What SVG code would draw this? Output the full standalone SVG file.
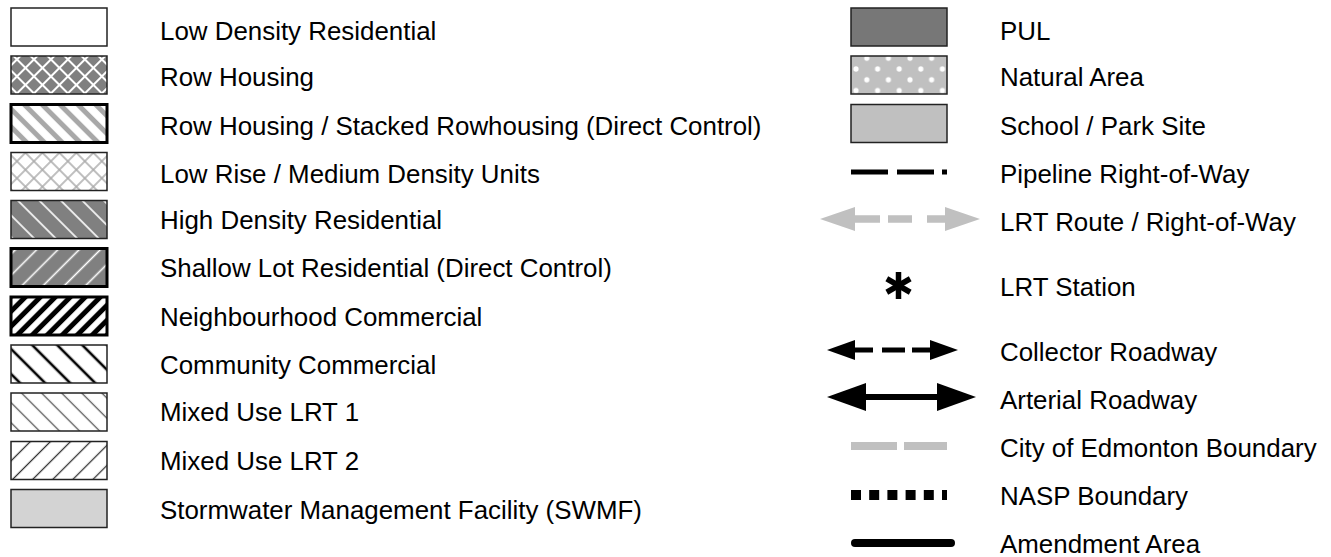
<svg xmlns="http://www.w3.org/2000/svg" width="1331" height="557" viewBox="0 0 1331 557">
  <style>
    text { font-family: "Liberation Sans", Arial, sans-serif; font-size: 25.9px; fill: #000; }
    .sw { stroke: #222; stroke-width: 1.5; }
    .swb { stroke: #000; stroke-width: 3; }
  </style>
  <defs>
    <!-- white crosshatch on mid grey -->
    <pattern id="pRowHousing" patternUnits="userSpaceOnUse" width="12" height="12" patternTransform="rotate(45)">
      <rect width="12" height="12" fill="#808080"/>
      <path d="M0,6 H12 M6,0 V12" stroke="#fff" stroke-width="2"/>
    </pattern>
    <!-- wide light grey stripes, falling left to right -->
    <pattern id="pStacked" patternUnits="userSpaceOnUse" width="12.6" height="12.6" patternTransform="rotate(45)">
      <rect width="12.6" height="12.6" fill="#fff"/>
      <path d="M0,6.3 H12.6" stroke="#a8a8a8" stroke-width="5"/>
    </pattern>
    <!-- thin grey crosshatch on white -->
    <pattern id="pLowRise" patternUnits="userSpaceOnUse" width="12" height="12" patternTransform="rotate(45)">
      <rect width="12" height="12" fill="#fff"/>
      <path d="M0,6 H12 M6,0 V12" stroke="#aaa" stroke-width="1.5"/>
    </pattern>
    <pattern id="pHighDensity" patternUnits="userSpaceOnUse" width="15.2" height="15.2" patternTransform="rotate(45)">
      <rect width="15.2" height="15.2" fill="#808080"/>
      <path d="M0,7.6 H15.2" stroke="#fff" stroke-width="1.6"/>
    </pattern>
    <pattern id="pShallowLot" patternUnits="userSpaceOnUse" width="15" height="15" patternTransform="rotate(-45)">
      <rect width="15" height="15" fill="#808080"/>
      <path d="M0,7.5 H15" stroke="#fff" stroke-width="1.6"/>
    </pattern>
    <pattern id="pNbhdCommercial" patternUnits="userSpaceOnUse" width="10.6" height="10.6" patternTransform="rotate(-45)">
      <rect width="10.6" height="10.6" fill="#fff"/>
      <path d="M0,5.3 H10.6" stroke="#000" stroke-width="5"/>
    </pattern>
    <pattern id="pCommCommercial" patternUnits="userSpaceOnUse" width="17.7" height="17.7" patternTransform="rotate(45)">
      <rect width="17.7" height="17.7" fill="#fff"/>
      <path d="M0,8.85 H17.7" stroke="#000" stroke-width="2.6"/>
    </pattern>
    <pattern id="pMixed1" patternUnits="userSpaceOnUse" width="14.2" height="14.2" patternTransform="rotate(45)">
      <rect width="14.2" height="14.2" fill="#fff"/>
      <path d="M0,7.1 H14.2" stroke="#555" stroke-width="1.3"/>
    </pattern>
    <pattern id="pMixed2" patternUnits="userSpaceOnUse" width="14.2" height="14.2" patternTransform="rotate(-45)">
      <rect width="14.2" height="14.2" fill="#fff"/>
      <path d="M0,7.1 H14.2" stroke="#333" stroke-width="1.3"/>
    </pattern>
    <!-- staggered white dots on light grey -->
    <pattern id="pNatural" patternUnits="userSpaceOnUse" x="856" y="69" width="21.6" height="21.6">
      <rect width="21.6" height="21.6" fill="#c0c0c0"/>
      <circle cx="0" cy="0" r="2.6" fill="#fff"/>
      <circle cx="21.6" cy="0" r="2.6" fill="#fff"/>
      <circle cx="0" cy="21.6" r="2.6" fill="#fff"/>
      <circle cx="21.6" cy="21.6" r="2.6" fill="#fff"/>
      <circle cx="10.8" cy="10.8" r="2.6" fill="#fff"/>
    </pattern>
    <marker id="headGrey" viewBox="0 0 10 10" refX="0" refY="5" markerUnits="userSpaceOnUse" markerWidth="35" markerHeight="24" orient="auto-start-reverse" preserveAspectRatio="none">
      <path d="M0,0 L10,5 L0,10 Z" fill="#c0c0c0"/>
    </marker>
    <marker id="headSmall" viewBox="0 0 10 10" refX="0" refY="5" markerUnits="userSpaceOnUse" markerWidth="28" markerHeight="20" orient="auto-start-reverse" preserveAspectRatio="none">
      <path d="M0,0 L10,5 L0,10 Z" fill="#000"/>
    </marker>
    <marker id="headLarge" viewBox="0 0 10 10" refX="0" refY="5" markerUnits="userSpaceOnUse" markerWidth="39" markerHeight="28" orient="auto-start-reverse" preserveAspectRatio="none">
      <path d="M0,0 L10,5 L0,10 Z" fill="#000"/>
    </marker>
  </defs>

  <!-- land use swatches -->
  <g id="low-density-residential">
    <rect class="sw" x="11" y="8" width="96" height="38" fill="#fff"/>
    <text x="160" y="40">Low Density Residential</text>
  </g>
  <g id="row-housing">
    <rect class="sw" x="11" y="56" width="96" height="38" fill="url(#pRowHousing)"/>
    <text x="160" y="86">Row Housing</text>
  </g>
  <g id="row-housing-stacked">
    <rect class="swb" x="11" y="104.5" width="96" height="38" fill="url(#pStacked)"/>
    <text x="160" y="135">Row Housing / Stacked Rowhousing (Direct Control)</text>
  </g>
  <g id="low-rise">
    <rect class="sw" x="11" y="152.5" width="96" height="38" fill="url(#pLowRise)"/>
    <text x="160" y="183">Low Rise / Medium Density Units</text>
  </g>
  <g id="high-density-residential">
    <rect class="sw" x="11" y="200.5" width="96" height="38" fill="url(#pHighDensity)"/>
    <text x="160" y="229">High Density Residential</text>
  </g>
  <g id="shallow-lot-residential">
    <rect class="swb" x="11" y="248.5" width="96" height="38" fill="url(#pShallowLot)"/>
    <text x="160" y="277">Shallow Lot Residential (Direct Control)</text>
  </g>
  <g id="neighbourhood-commercial">
    <rect class="swb" x="11" y="297" width="96" height="38" fill="url(#pNbhdCommercial)"/>
    <text x="160" y="326">Neighbourhood Commercial</text>
  </g>
  <g id="community-commercial">
    <rect class="sw" x="11" y="345" width="96" height="38" fill="url(#pCommCommercial)"/>
    <text x="160" y="374">Community Commercial</text>
  </g>
  <g id="mixed-use-lrt-1">
    <rect class="sw" x="11" y="393" width="96" height="38" fill="url(#pMixed1)"/>
    <text x="160" y="421">Mixed Use LRT 1</text>
  </g>
  <g id="mixed-use-lrt-2">
    <rect class="sw" x="11" y="441.5" width="96" height="38" fill="url(#pMixed2)"/>
    <text x="160" y="470">Mixed Use LRT 2</text>
  </g>
  <g id="swmf">
    <rect class="sw" x="11" y="489.5" width="96" height="38" fill="#d3d3d3"/>
    <text x="160" y="519">Stormwater Management Facility (SWMF)</text>
  </g>

  <!-- public land swatches -->
  <g id="pul">
    <rect class="sw" x="851" y="8" width="96" height="38" fill="#777"/>
    <text x="1000" y="40">PUL</text>
  </g>
  <g id="natural-area">
    <rect class="sw" x="851" y="56" width="96" height="38" fill="url(#pNatural)"/>
    <text x="1000" y="86">Natural Area</text>
  </g>
  <g id="school-park">
    <rect class="sw" x="851" y="104.5" width="96" height="38" fill="#c0c0c0"/>
    <text x="1000" y="135">School / Park Site</text>
  </g>

  <!-- line symbols -->
  <g id="connectors">
    <path d="M851,172 H947" stroke="#000" stroke-width="5" stroke-dasharray="37 9 37 8 5 100"/>
    <path d="M855,219 H945" stroke="#c0c0c0" stroke-width="7.5" stroke-dasharray="25 8 24 15" marker-start="url(#headGrey)" marker-end="url(#headGrey)"/>
    <path d="M855,350 H930" stroke="#000" stroke-width="5" stroke-dasharray="18 9 23 7 18 0" marker-start="url(#headSmall)" marker-end="url(#headSmall)"/>
    <path d="M866,397 H937" stroke="#000" stroke-width="6" marker-start="url(#headLarge)" marker-end="url(#headLarge)"/>
    <path d="M851,446 H947" stroke="#c0c0c0" stroke-width="8" stroke-dasharray="46 7"/>
    <path d="M851,495 H947" stroke="#000" stroke-width="10" stroke-dasharray="10 8.2"/>
    <path d="M855,543 H951" stroke="#000" stroke-width="8" stroke-linecap="round"/>
  </g>

  <g id="pipeline-label"><text x="1000" y="183">Pipeline Right-of-Way</text></g>
  <g id="lrt-route-label"><text x="1000" y="231">LRT Route / Right-of-Way</text></g>
  <g id="lrt-station">
    <g stroke="#000" stroke-width="5.5" transform="translate(898.5,285.5)">
      <path d="M0,-13.5 V13.5"/>
      <path d="M0,-13.5 V13.5" transform="rotate(60)"/>
      <path d="M0,-13.5 V13.5" transform="rotate(-60)"/>
    </g>
    <text x="1000" y="296">LRT Station</text>
  </g>
  <g id="collector-label"><text x="1000" y="361">Collector Roadway</text></g>
  <g id="arterial-label"><text x="1000" y="409">Arterial Roadway</text></g>
  <g id="city-boundary-label"><text x="1000" y="457">City of Edmonton Boundary</text></g>
  <g id="nasp-boundary-label"><text x="1000" y="505">NASP Boundary</text></g>
  <g id="amendment-area-label"><text x="1000" y="553">Amendment Area</text></g>
</svg>
